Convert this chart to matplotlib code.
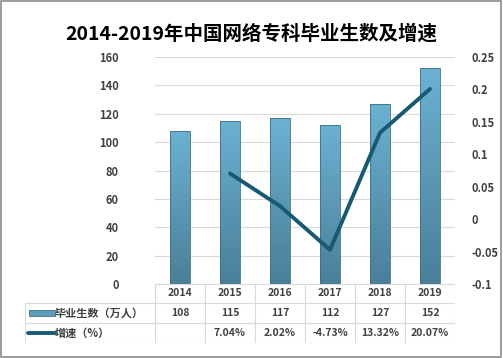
import matplotlib
matplotlib.use("Agg")
import matplotlib.pyplot as plt
import numpy as np
from matplotlib.patches import Rectangle

plt.rcParams['font.family'] = ['Noto Sans CJK SC', 'DejaVu Sans']

years = ['2014', '2015', '2016', '2017', '2018', '2019']
graduates = [108, 115, 117, 112, 127, 152]
growth = [None, 0.0704, 0.0202, -0.0473, 0.1332, 0.2007]
growth_labels = ['', '7.04%', '2.02%', '-4.73%', '13.32%', '20.07%']
row_names = ['毕业生数（万人）', '增速（%）']
title = '2014-2019年中国网络专科毕业生数及增速'

line_color = '#175a73'
grid_color = '#d9d9d9'
txt_color = '#404040'

W, H = 503, 358
fig = plt.figure(figsize=(W / 100, H / 100), dpi=100)
fig.patch.set_facecolor('white')
fig.add_artist(Rectangle((0.002, 0.003), 0.995, 0.993, transform=fig.transFigure,
                         fill=False, edgecolor='#8c8c8c', linewidth=1.2))

fig.text(0.5, 0.905, title, ha='center', va='center', fontsize=14,
         fontweight='bold', color='black')

# main plot
ax = fig.add_axes([155 / W, 1 - 284 / H, 300 / W, 227 / H])
x = np.arange(len(years))
ax.set_xlim(-0.5, len(years) - 0.5)
ax.set_ylim(0, 160)
ax.set_yticks(range(0, 161, 20))
ax.grid(axis='y', color=grid_color, linewidth=0.8)
ax.set_axisbelow(True)
ax.set_xticks([])
for s in ax.spines.values():
    s.set_visible(False)
ax.tick_params(axis='y', length=0, pad=26, labelsize=8, labelcolor=txt_color)
for lbl in ax.get_yticklabels():
    lbl.set_fontweight('bold')

# gradient bars
grad = np.linspace(0, 1, 100).reshape(-1, 1)
cmap = matplotlib.colors.LinearSegmentedColormap.from_list('b', ['#4a7f98', '#6bb1d2'])
bw = 0.4
for xi, v in zip(x, graduates):
    rect = Rectangle((xi - bw / 2, 0), bw, v, facecolor='none', edgecolor='#3f6f86', linewidth=0.6, zorder=3)
    ax.add_patch(rect)
    im = ax.imshow(grad, extent=(xi - bw / 2, xi + bw / 2, 0, v), origin='lower',
                   cmap=cmap, aspect='auto', zorder=2)
    im.set_clip_path(rect)
ax.set_xlim(-0.5, len(years) - 0.5)
ax.set_ylim(0, 160)

ax2 = ax.twinx()
ax2.set_ylim(-0.1, 0.25)
ax2.set_yticks([-0.1, -0.05, 0, 0.05, 0.1, 0.15, 0.2, 0.25])
ax2.set_yticklabels(['-0.1', '-0.05', '0', '0.05', '0.1', '0.15', '0.2', '0.25'])
for s in ax2.spines.values():
    s.set_visible(False)
ax2.tick_params(axis='y', length=0, pad=12, labelsize=8, labelcolor=txt_color)
for lbl in ax2.get_yticklabels():
    lbl.set_fontweight('bold')
ax2.plot(x[1:], growth[1:], color=line_color, linewidth=2.8, solid_capstyle='round', zorder=4)

# data table
tax = fig.add_axes([25 / W, 1 - 343 / H, 430 / W, 59 / H])
tax.set_xlim(25, 455)
tax.set_ylim(343, 284)
tax.axis('off')
ec = grid_color
rows_y = [284, 303, 323, 343]
tax.plot([155, 455], [284, 284], color=ec, lw=0.8)
for yy in rows_y[1:]:
    tax.plot([25, 455], [yy, yy], color=ec, lw=0.8)
tax.plot([25, 25], [303, 343], color=ec, lw=0.8)
for i in range(len(years) + 1):
    xx = 155 + 50 * i
    tax.plot([xx, xx], [284, 343], color=ec, lw=0.8)
for i, yr in enumerate(years):
    cx = 180 + 50 * i
    tax.text(cx, 293.5, yr, ha='center', va='center', fontsize=7.5, fontweight='bold', color=txt_color)
    tax.text(cx, 313, str(graduates[i]), ha='center', va='center', fontsize=7.5, fontweight='bold', color=txt_color)
    tax.text(cx, 333, growth_labels[i], ha='center', va='center', fontsize=7.5, fontweight='bold', color=txt_color)
# legend keys
tax.add_patch(Rectangle((29, 310), 26, 6, facecolor='#5d9dbb', edgecolor='#3f6f86', lw=0.6))
tax.plot([28, 55], [333, 333], color=line_color, lw=2.8, solid_capstyle='round')
tax.text(55, 313, row_names[0], ha='left', va='center', fontsize=8, fontweight='bold', color=txt_color)
tax.text(55, 333, row_names[1], ha='left', va='center', fontsize=8, fontweight='bold', color=txt_color)

fig.savefig('out.png', dpi=100)
